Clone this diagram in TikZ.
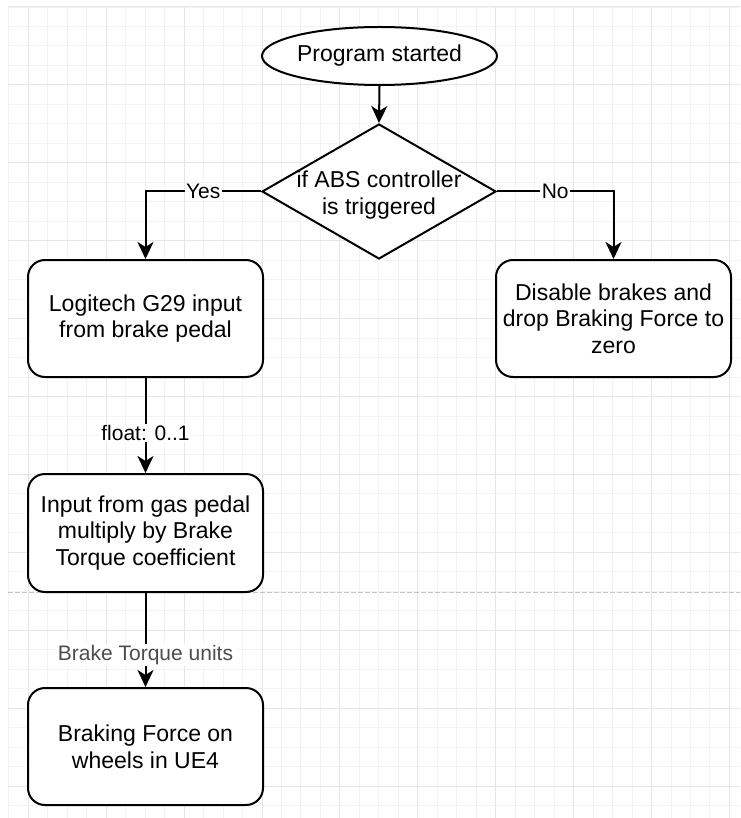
\documentclass[tikz,border=0pt]{standalone}
\usepackage{fontspec}
\setmainfont{Liberation Sans}
\usetikzlibrary{shapes.geometric,arrows.meta}
\definecolor{gminor}{HTML}{F3F3F3}
\definecolor{gmajor}{HTML}{E6E6E6}
\definecolor{lblgray}{HTML}{4D4D4D}
\begin{document}
\begin{tikzpicture}[x=1pt,y=-1pt,
  every node/.style={font=\fontsize{23}{26.7}\selectfont, align=center},
  box/.style={draw=black, line width=2pt, rounded corners=17pt, fill=white,
    minimum width=235pt, minimum height=117pt, inner sep=0pt},
  startbox/.style={draw=black, line width=2pt, ellipse, fill=white,
    minimum width=235pt, minimum height=58pt, inner sep=0pt},
  decbox/.style={draw=black, line width=2pt, diamond, fill=white,
    minimum width=234pt, minimum height=135pt, inner sep=0pt},
  conn/.style={draw=black, line width=2pt,
    -{Stealth[length=17pt,width=16pt,inset=5pt]}},
  lbl/.style={fill=white, inner sep=1.5pt, font=\fontsize{21}{24}\selectfont},
  minorline/.style={draw=gminor, line width=0.9pt},
  majorline/.style={draw=gmajor, line width=1pt}
]
\useasboundingbox (0,0) rectangle (740,818);
\fill[white] (0,0) rectangle (740,818);
% grid
\foreach \i in {0,...,37} {
  \pgfmathsetmacro\xx{8.8+19.475*\i}
  \draw[minorline] (\xx,7) -- (\xx,818);
}
\foreach \i in {0,...,41} {
  \pgfmathsetmacro\yy{7+19.475*\i}
  \draw[minorline] (8,\yy) -- (740,\yy);
}
\foreach \i in {0,...,9} {
  \pgfmathsetmacro\xx{28.3+77.9*\i}
  \draw[majorline] (\xx,7) -- (\xx,818);
}
\foreach \i in {0,...,10} {
  \pgfmathsetmacro\yy{7+77.9*\i}
  \draw[majorline] (8,\yy) -- (740,\yy);
}
\draw[draw=gray!45, line width=1pt, dash pattern=on 4.5pt off 2.5pt] (8,592.3) -- (740,592.3);

% nodes
\node[startbox] (start) at (379.5,56) {Program started};
\node[decbox] (dec) at (379,191.5) {};
\node (dectext) at (379,195) {if ABS controller\\is triggered};
\node[box] (b1) at (145.5,318.5) {Logitech G29 input\\from brake pedal};
\node[box, minimum height=118pt] (b2) at (145.5,533) {Input from gas pedal\\multiply by Brake\\Torque coefficient};
\node[box] (b3) at (145.5,746.5) {Braking Force on\\wheels in UE4};
\node[box] (b4) at (613.5,318.5) {Disable brakes and\\drop Braking Force to\\zero};

% connectors
\draw[conn] (start.south) -- (dec.north);
\draw[conn] (dec.west) -- node[lbl] {Yes} (dec.west -| b1.north) -- (b1.north);
\draw[conn] (dec.east) -- node[lbl] {No} (dec.east -| b4.north) -- (b4.north);
\draw[conn] (b1.south) -- node[lbl, pos=0.58] {float: 0..1} (b2.north);
\draw[conn] (b2.south) -- node[lbl, pos=0.66, text=lblgray] {Brake Torque units} (b3.north);
\end{tikzpicture}
\end{document}
